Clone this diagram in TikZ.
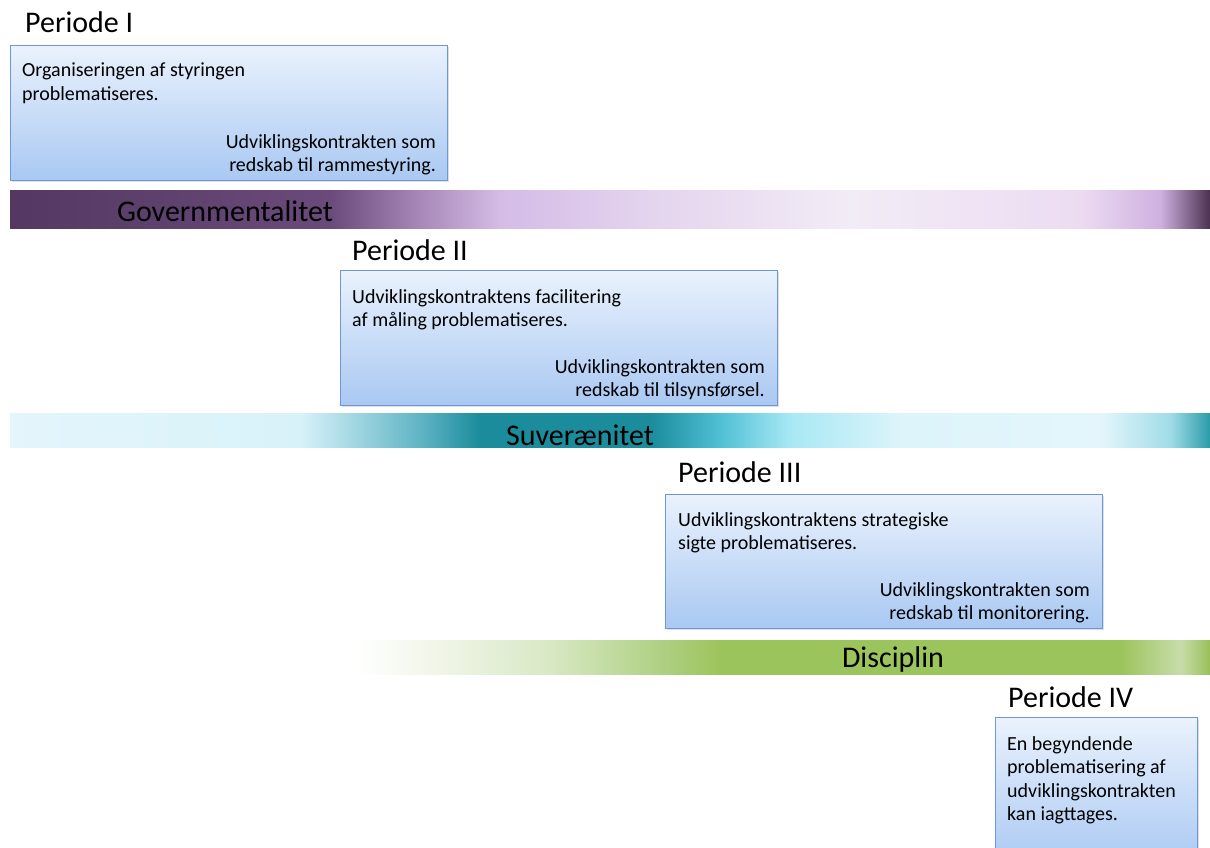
\documentclass[tikz,border=0pt]{standalone}
\usepackage{fontspec}
\setmainfont{Carlito}
\usetikzlibrary{shadows}
\definecolor{boxtop}{HTML}{EAF2FD}
\definecolor{boxbot}{HTML}{A9C8F2}
\definecolor{boxline}{HTML}{6A98D8}
\pgfdeclarehorizontalshading{govshade}{100bp}{%
color(0bp)=(rgb,255:red,74;green,48;blue,80);
color(25bp)=(rgb,255:red,84;green,56;blue,98);
color(38.33bp)=(rgb,255:red,106;green,74;blue,122);
color(42.08bp)=(rgb,255:red,168;green,136;blue,184);
color(45.42bp)=(rgb,255:red,212;green,188;blue,230);
color(51.67bp)=(rgb,255:red,228;green,212;blue,238);
color(60bp)=(rgb,255:red,242;green,236;blue,246);
color(69.58bp)=(rgb,255:red,236;green,220;blue,242);
color(72.92bp)=(rgb,255:red,207;green,176;blue,224);
color(75bp)=(rgb,255:red,74;green,48;blue,80);
color(100bp)=(rgb,255:red,74;green,48;blue,80)}
\pgfdeclarehorizontalshading{suvshade}{100bp}{%
color(0bp)=(rgb,255:red,228;green,245;blue,251);
color(25bp)=(rgb,255:red,228;green,245;blue,251);
color(37.08bp)=(rgb,255:red,216;green,242;blue,250);
color(42.08bp)=(rgb,255:red,96;green,180;blue,196);
color(44.58bp)=(rgb,255:red,26;green,140;blue,156);
color(51.67bp)=(rgb,255:red,26;green,140;blue,156);
color(54.58bp)=(rgb,255:red,80;green,192;blue,212);
color(57.5bp)=(rgb,255:red,168;green,232;blue,244);
color(62.08bp)=(rgb,255:red,220;green,244;blue,250);
color(70.42bp)=(rgb,255:red,228;green,246;blue,251);
color(73.33bp)=(rgb,255:red,160;green,220;blue,232);
color(75bp)=(rgb,255:red,42;green,154;blue,168);
color(100bp)=(rgb,255:red,42;green,154;blue,168)}
\pgfdeclarehorizontalshading{disshade}{100bp}{%
color(0bp)=(rgb,255:red,255;green,255;blue,255);
color(25bp)=(rgb,255:red,255;green,255;blue,255);
color(30.56bp)=(rgb,255:red,238;green,244;blue,228);
color(36.4bp)=(rgb,255:red,216;green,232;blue,196);
color(44.01bp)=(rgb,255:red,168;green,204;blue,120);
color(46.35bp)=(rgb,255:red,156;green,196;blue,92);
color(69.74bp)=(rgb,255:red,156;green,196;blue,92);
color(73.25bp)=(rgb,255:red,200;green,220;blue,170);
color(75bp)=(rgb,255:red,152;green,192;blue,88);
color(100bp)=(rgb,255:red,152;green,192;blue,88)}
\tikzset{
  pbox/.style={draw=boxline, line width=0.8pt, top color=boxtop, bottom color=boxbot,
    anchor=north west, inner sep=0pt,
    drop shadow={opacity=0.25, shadow xshift=2pt, shadow yshift=-2pt}},
  ptitle/.style={anchor=west, inner sep=0pt, font=\fontsize{30}{34}\selectfont},
  ltext/.style={anchor=north west, inner sep=0pt, align=left, font=\fontsize{20}{23.5}\selectfont},
  rtext/.style={anchor=north east, inner sep=0pt, align=right, font=\fontsize{20}{23.5}\selectfont},
  bartext/.style={inner sep=0pt, font=\fontsize{30}{34}\selectfont}
}
\begin{document}
\begin{tikzpicture}[x=1pt,y=-1pt]
\useasboundingbox (0,0) rectangle (1210,847);
\clip (0,0) rectangle (1210,847);
% Periode I
\node[ptitle] (t1) at (25,22) {Periode I};
\node[pbox, minimum width=437pt, minimum height=135pt] (b1) at (10,45) {};
\node[ltext] (l1) at (22,63) {Organiseringen af styringen\\problematiseres.};
\node[rtext] (r1) at (436,134) {Udviklingskontrakten som\\redskab til rammestyring.};
% bar 1
\node[shading=govshade, minimum width=1200pt, minimum height=38pt, anchor=north west, inner sep=0pt] (bar1) at (10,190) {};
\node[bartext] (bt1) at (225,211) {Governmentalitet};
% Periode II
\node[ptitle] (t2) at (352,250) {Periode II};
\node[pbox, minimum width=437pt, minimum height=135pt] (b2) at (340,270) {};
\node[ltext] (l2) at (352,289) {Udviklingskontraktens facilitering\\af måling problematiseres.};
\node[rtext] (r2) at (765,359) {Udviklingskontrakten som\\redskab til tilsynsførsel.};
% bar 2
\node[shading=suvshade, minimum width=1200pt, minimum height=34pt, anchor=north west, inner sep=0pt] (bar2) at (10,413) {};
\node[bartext] (bt2) at (580,435) {Suverænitet};
% Periode III
\node[ptitle] (t3) at (678,472) {Periode III};
\node[pbox, minimum width=437pt, minimum height=134pt] (b3) at (665,494) {};
\node[ltext] (l3) at (678,512) {Udviklingskontraktens strategiske\\sigte problematiseres.};
\node[rtext] (r3) at (1090,582) {Udviklingskontrakten som\\redskab til monitorering.};
% bar 3
\node[shading=disshade, minimum width=855pt, minimum height=34pt, anchor=north west, inner sep=0pt] (bar3) at (355,640) {};
\node[bartext] (bt3) at (893,659) {Disciplin};
% Periode IV
\node[ptitle] (t4) at (1008,697) {Periode IV};
\node[pbox, minimum width=202pt, minimum height=150pt] (b4) at (995,717) {};
\node[ltext] (l4) at (1007,736) {En begyndende\\problematisering af\\udviklingskontrakten\\kan iagttages.};
\end{tikzpicture}
\end{document}
